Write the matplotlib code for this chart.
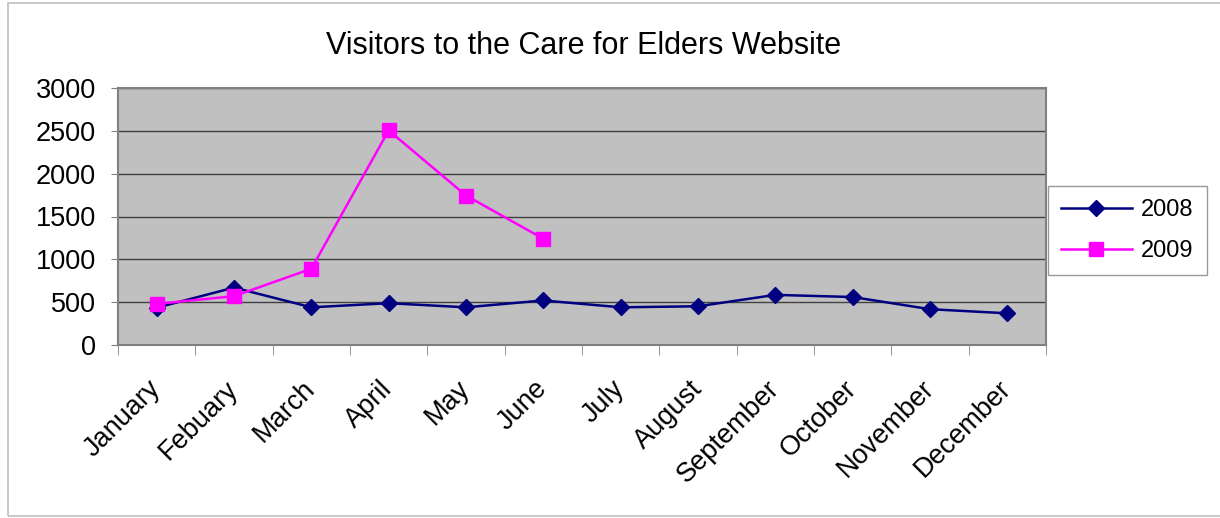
import matplotlib
matplotlib.use("Agg")
import matplotlib.pyplot as plt
from matplotlib.patches import Rectangle
from matplotlib.ticker import FixedLocator
from matplotlib.transforms import ScaledTranslation

months = ["January", "Febuary", "March", "April", "May", "June", "July",
          "August", "September", "October", "November", "December"]
visitors_2008 = [435, 670, 440, 488, 440, 520, 440, 452, 585, 560, 418, 370]
visitors_2009 = [480, 570, 890, 2505, 1745, 1240]
yticks = [0, 500, 1000, 1500, 2000, 2500, 3000]

plt.rcParams['font.family'] = ['Liberation Sans', 'DejaVu Sans']

fig = plt.figure(figsize=(12.2, 5.18), dpi=100)
fig.patches.append(Rectangle((8/1220, 2/518), 1230/1220, 513/518, transform=fig.transFigure,
                             fill=False, edgecolor='#bfbfbf', linewidth=1.2))
ax = fig.add_axes([118/1220, (518-345)/518, (1046-118)/1220, (345-88)/518])
ax.set_facecolor('#C0C0C0')

x = list(range(len(months)))
ax.plot(x, visitors_2008, color='#000080', linewidth=1.8, marker='D', markersize=8, label='2008')
ax.plot(x[:len(visitors_2009)], visitors_2009, color='#FF00FF', linewidth=1.8, marker='s',
        markersize=10, label='2009')

ax.set_xlim(-0.5, len(months) - 0.5)
ax.set_ylim(0, 3000)
ax.set_yticks(yticks)
ax.set_yticklabels([str(v) for v in yticks], fontsize=19.5)
ax.yaxis.grid(True, color='#404040', linewidth=1.0)
ax.set_axisbelow(True)

ax.set_xticks(x)
ax.set_xticklabels(months, fontsize=19.5, rotation=45, ha='right', rotation_mode='anchor')
ax.tick_params(axis='x', length=0, pad=22)
offset = ScaledTranslation(-9/100, 0, fig.dpi_scale_trans)
for lab in ax.get_xticklabels():
    lab.set_transform(lab.get_transform() + offset)
ax.xaxis.set_minor_locator(FixedLocator([i - 0.5 for i in range(len(months) + 1)]))
ax.tick_params(axis='x', which='minor', length=7, color='#808080', direction='out')
ax.tick_params(axis='y', length=5, color='#808080', direction='out', pad=11)

for s in ax.spines.values():
    s.set_color('#808080')
    s.set_linewidth(1.5)

fig.text(584/1220, 1 - 46/518, "Visitors to the Care for Elders Website", fontsize=22,
         ha='center', va='center')

leg = ax.legend(loc='center left', bbox_to_anchor=(1.002, 0.445), fontsize=17, frameon=True,
                fancybox=False, edgecolor='#808080', handlelength=3.0, borderpad=0.55,
                labelspacing=0.8, borderaxespad=0, handletextpad=0.4)
leg.get_frame().set_linewidth(1.0)

fig.savefig("out.png", dpi=100)
